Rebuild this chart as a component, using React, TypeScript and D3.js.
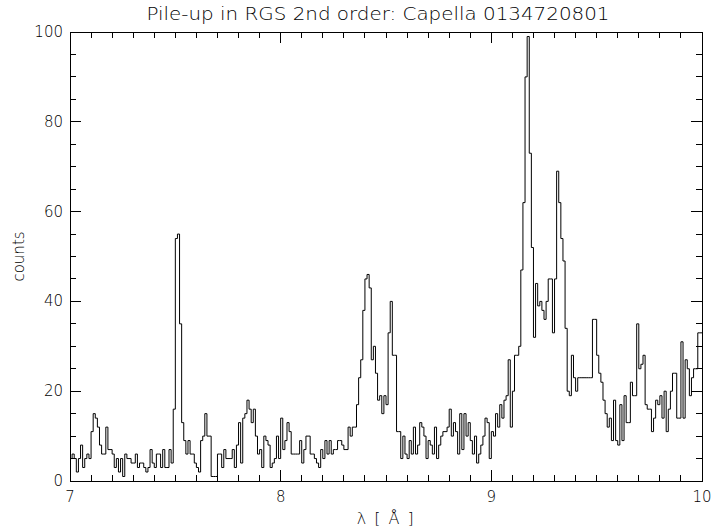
import React from 'react';
import * as d3 from 'd3';

// ---- data ----
const binStart = 7.0;
const binWidth = 0.01;
const counts: number[] = [
  5, 6, 5, 2, 5, 8, 3, 5, 6, 5,
  11, 15, 14, 12, 8, 6, 6, 12, 7, 7,
  6, 3, 5, 2, 5, 1, 6, 5, 5, 4,
  4, 6, 3, 4, 4, 3, 2, 3, 7, 4,
  3, 6, 6, 3, 7, 3, 3, 7, 4, 16,
  54, 55, 35, 13, 9, 6, 9, 6, 6, 4,
  3, 2, 9, 10, 15, 10, 10, 1, 1, 1,
  6, 6, 3, 7, 5, 5, 5, 7, 3, 8,
  13, 4, 14, 15, 18, 16, 13, 16, 10, 6,
  7, 3, 10, 9, 8, 3, 4, 5, 10, 5,
  14, 7, 9, 13, 11, 6, 6, 6, 6, 9,
  4, 7, 10, 10, 6, 6, 5, 4, 3, 7,
  5, 9, 6, 9, 6, 7, 7, 9, 9, 8,
  7, 7, 12, 10, 12, 12, 17, 23, 27, 38,
  45, 46, 43, 27, 30, 24, 18, 19, 15, 19,
  17, 33, 40, 28, 28, 11, 11, 5, 10, 6,
  5, 9, 6, 12, 6, 8, 13, 12, 10, 5,
  9, 8, 6, 12, 5, 8, 10, 11, 11, 12,
  16, 10, 13, 11, 6, 15, 7, 15, 10, 13,
  9, 6, 10, 4, 6, 8, 10, 14, 13, 5,
  11, 10, 15, 12, 17, 14, 18, 19, 27, 12,
  20, 28, 28, 30, 47, 62, 90, 99, 73, 52,
  32, 44, 39, 40, 38, 36, 40, 45, 45, 33,
  45, 69, 62, 54, 49, 34, 20, 19, 28, 23,
  20, 23, 23, 23, 23, 23, 23, 23, 36, 36,
  28, 24, 22, 18, 15, 12, 14, 9, 18, 9,
  8, 17, 9, 19, 13, 13, 22, 19, 19, 35,
  25, 26, 28, 17, 16, 16, 11, 14, 18, 17,
  19, 14, 20, 11, 16, 20, 24, 24, 14, 14,
  31, 14, 27, 25, 19, 23, 25, 25, 33, 33,
];
const xDomain = [7, 10];
const yDomain = [0, 100];
const xMajorTicks = [7, 8, 9, 10];
const yMajorTicks = [0, 20, 40, 60, 80, 100];
const titleText = 'Pile-up in RGS 2nd order: Capella 0134720801';
const xLabel = 'λ [ Å ]';
const yLabel = 'counts';

export default function App() {
  const W = 711;
  const H = 528;
  const L = 70, R = 702, T = 32, B = 481;
  const x = d3.scaleLinear().domain(xDomain).range([L, R]);
  const y = d3.scaleLinear().domain(yDomain).range([B, T]);

  const pts: [number, number][] = counts.map((c, i) => [binStart + i * binWidth, c]);
  pts.push([binStart + counts.length * binWidth, counts[counts.length - 1]]);
  const line = d3
    .line<[number, number]>()
    .x((d) => x(d[0]))
    .y((d) => y(d[1]))
    .curve(d3.curveStepAfter);

  const xMinor = d3.range(70, 101).map((v) => v / 10);
  const yMinor = d3.range(0, 101, 5);
  const isMajorX = (v: number) => xMajorTicks.some((m) => Math.abs(m - v) < 1e-6);
  const isMajorY = (v: number) => yMajorTicks.includes(v);
  const font = '"DejaVu Sans", "Liberation Sans", sans-serif';

  return (
    <svg
      width={W}
      height={H}
      style={{ position: 'absolute', left: 0, top: 0, background: '#fff' }}
      fontFamily={font}
      fontWeight={200}
    >
      <rect x={0} y={0} width={W} height={H} fill="#fff" />
      <text x={378} y={20} fontSize={17} textAnchor="middle" textLength={463} lengthAdjust="spacingAndGlyphs" fill="#000">
        {titleText}
      </text>
      <path d={line(pts) || ''} fill="none" stroke="#000" strokeWidth={1} />
      <g stroke="#000" strokeWidth={1} shapeRendering="crispEdges">
        <rect x={L} y={T} width={R - L} height={B - T} fill="none" />
        {xMinor.map((v) => {
          const len = isMajorX(v) ? 11 : 6;
          const px = x(v);
          return (
            <g key={'xt' + v}>
              <line x1={px} x2={px} y1={B} y2={B - len} />
              <line x1={px} x2={px} y1={T} y2={T + len} />
            </g>
          );
        })}
        {yMinor.map((v) => {
          const len = isMajorY(v) ? 11 : 6;
          const py = y(v);
          return (
            <g key={'yt' + v}>
              <line x1={L} x2={L + len} y1={py} y2={py} />
              <line x1={R} x2={R - len} y1={py} y2={py} />
            </g>
          );
        })}
      </g>
      {xMajorTicks.map((v) => (
        <text key={'xl' + v} x={x(v)} y={502} fontSize={15} textAnchor="middle" fill="#000">
          {v}
        </text>
      ))}
      {yMajorTicks.map((v) => (
        <text key={'yl' + v} x={63} y={y(v) + 5} fontSize={15} textAnchor="end" fill="#000">
          {v}
        </text>
      ))}
      <text x={386} y={524} fontSize={16} textAnchor="middle" letterSpacing={1.5} fill="#000">
        {xLabel}
      </text>
      <text
        transform={`translate(24, ${(T + B) / 2}) rotate(-90)`}
        fontSize={15}
        textAnchor="middle"
        fill="#000"
      >
        {yLabel}
      </text>
    </svg>
  );
}
